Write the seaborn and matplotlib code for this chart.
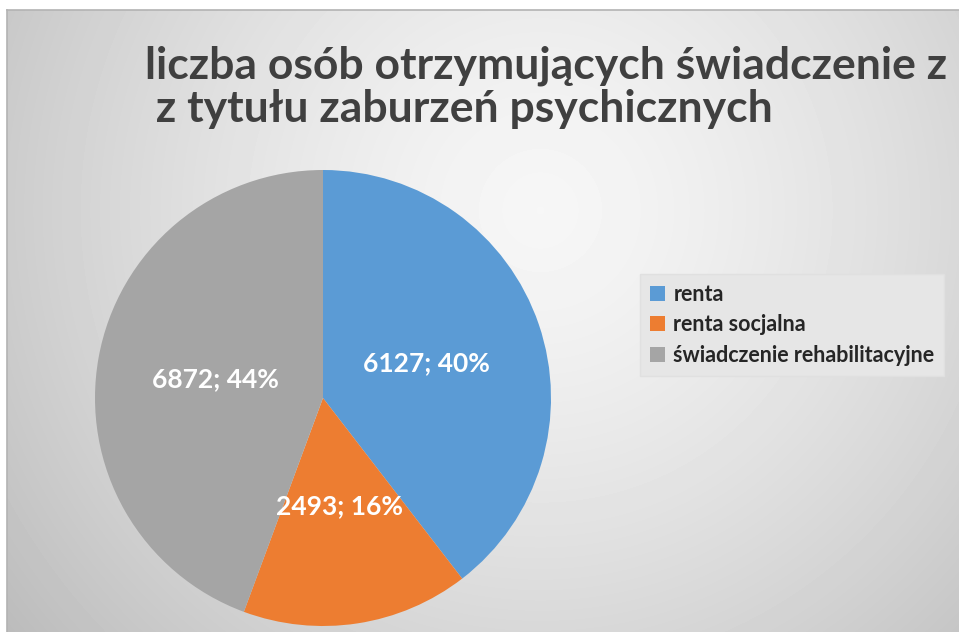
import numpy as np
import matplotlib
matplotlib.use('Agg')
import matplotlib.pyplot as plt
import matplotlib.patches as mpatches
import seaborn as sns

# === Dane ===
kategorie = ['renta', 'renta socjalna', 'świadczenie rehabilitacyjne']
liczba_osob = [6127, 2493, 6872]
kolory = ['#5B9BD5', '#ED7D31', '#A5A5A5']
tytul = 'liczba osób otrzymujących świadczenie z\n z tytułu zaburzeń psychicznych'

sns.set_style('white')
plt.rcParams['font.family'] = ['Lato', 'DejaVu Sans']

W, H = 959, 632
fig = plt.figure(figsize=(W / 100, H / 100), dpi=100)
fig.patch.set_facecolor('white')

# === Tło z gradientem radialnym ===
bg = fig.add_axes([7 / W, 0, 1 - 7 / W, 622 / H])
xx, yy = np.meshgrid(np.arange(7, W), np.arange(10, H))
d = np.sqrt((xx - 540) ** 2 + (yy - 210) ** 2) / 680
tlo = np.clip(0.965 - 0.23 * d ** 1.4, 0, 1)
bg.imshow(tlo, cmap='gray', vmin=0, vmax=1, aspect='auto',
          extent=(7, W, H, 10), interpolation='bilinear')
bg.set_xticks([])
bg.set_yticks([])
for s in ['right', 'bottom']:
    bg.spines[s].set_visible(False)
for s in ['top', 'left']:
    bg.spines[s].set_color('#b3b3b3')
    bg.spines[s].set_linewidth(1.2)

# === Wykres kołowy ===
cx, cy, r = 323, 398, 228
ax = fig.add_axes([(cx - r) / W, (H - cy - r) / H, 2 * r / W, 2 * r / H])
ax.set_facecolor('none')
suma = sum(liczba_osob)
_, _, etykiety = ax.pie(
    liczba_osob, colors=kolory, startangle=90, counterclock=False,
    autopct=lambda p: f'{round(p * suma / 100)}; {p:.0f}%',
    pctdistance=0.48, wedgeprops=dict(linewidth=0))
for t in etykiety:
    t.set_color('white')
    t.set_fontsize(19)
    t.set_fontweight('bold')
ax.set_xlim(-1, 1)
ax.set_ylim(-1, 1)
ax.set_aspect('equal')
ax.axis('off')

# === Tytuł ===
fig.text(145 / W, 1 - 46 / H, tytul, ha='left', va='top', fontsize=32,
         fontweight='bold', color='#404040', linespacing=1.08)

# === Legenda ===
uchwyty = [mpatches.Patch(facecolor=c, edgecolor='none', label=k)
           for k, c in zip(kategorie, kolory)]
leg = fig.legend(handles=uchwyty, loc='upper left',
                 bbox_to_anchor=(640 / W, 1 - 274 / H), frameon=True,
                 fontsize=15.5, handlelength=0.7, handleheight=0.7,
                 handletextpad=0.4, labelspacing=0.45, borderpad=0.45,
                 borderaxespad=0, fancybox=False)
leg.get_frame().set_facecolor('#e6e6e6')
leg.get_frame().set_edgecolor('#e0e0e0')
leg.get_frame().set_alpha(1)
for t in leg.get_texts():
    t.set_color('#262626')
    t.set_fontweight('bold')

fig.savefig('out.png', dpi=100)
